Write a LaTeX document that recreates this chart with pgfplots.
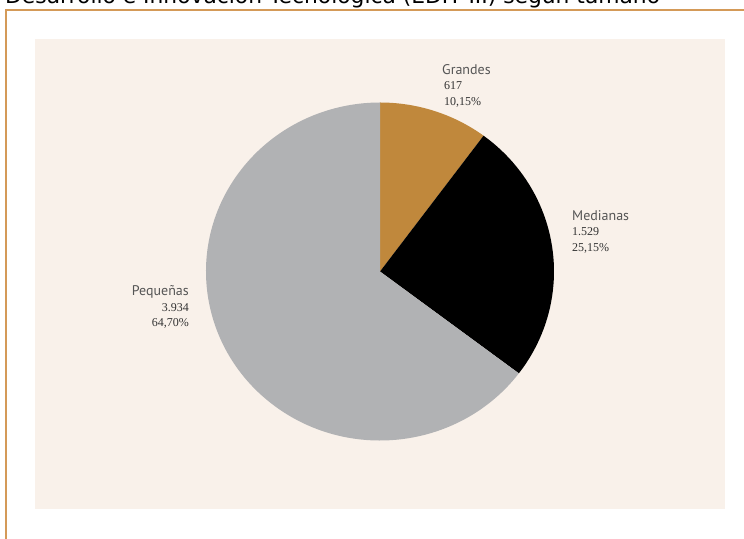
\documentclass[border=0pt]{standalone}
\usepackage{pgfplots}
\usepackage{pgfplotstable}
\pgfplotsset{compat=1.18}
\usepackage{fontspec}
\setmainfont{Liberation Serif}
\newfontfamily\titlefont{DejaVu Sans}
\newfontfamily\labfont{PT Sans}
\definecolor{grandes}{HTML}{C0883C}
\definecolor{medianas}{HTML}{000000}
\definecolor{pequenas}{HTML}{B1B2B4}
\definecolor{panel}{HTML}{F9F1EA}
\definecolor{frame}{HTML}{D49A58}
\definecolor{labgray}{HTML}{555555}
\definecolor{numgray}{HTML}{333333}

\pgfplotstableread{
name value
Grandes 617
Medianas 1529
Pequenas 3934
}\piedata

\pgfplotstablegetelem{0}{value}\of\piedata \let\vA\pgfplotsretval
\pgfplotstablegetelem{1}{value}\of\piedata \let\vB\pgfplotsretval
\pgfplotstablegetelem{2}{value}\of\piedata \let\vC\pgfplotsretval
\pgfmathsetmacro{\total}{\vA+\vB+\vC}
\pgfmathsetmacro{\fA}{\vA/\total}
\pgfmathsetmacro{\fB}{\vB/\total}
\pgfmathsetmacro{\aA}{90}
\pgfmathsetmacro{\aB}{90-360*\fA}
\pgfmathsetmacro{\aC}{\aB-360*\fB}
\pgfmathsetmacro{\aD}{90-360}

\begin{document}
\begin{tikzpicture}[x=1pt,y=1pt]
\useasboundingbox (0,0) rectangle (744,538);
\clip (0,0) rectangle (744,538);
% title (cut at top)
\node[anchor=base west, inner sep=0pt, text=black] at (5,534) {\titlefont\fontsize{21.8}{24}\selectfont Desarrollo e Innovación Tecnológica (EDIT III) según tamaño};
% frame
\draw[frame, line width=1.6pt] (5.7,-2) -- (5.7,528) -- (746,528);
% panel
\fill[panel] (35,29) rectangle (725,499);
\begin{axis}[
  hide axis,
  x=174pt, y=169pt,
  xmin=-1, xmax=1, ymin=-1, ymax=1,
  anchor=origin, at={(380pt,266.5pt)},
  clip=false,
]
\fill[grandes] (axis cs:0,0) -- (axis cs:{cos(\aA)},{sin(\aA)}) arc[start angle=\aA, end angle=\aB, x radius=174pt, y radius=169pt] -- cycle;
\fill[medianas] (axis cs:0,0) -- (axis cs:{cos(\aB)},{sin(\aB)}) arc[start angle=\aB, end angle=\aC, x radius=174pt, y radius=169pt] -- cycle;
\fill[pequenas] (axis cs:0,0) -- (axis cs:{cos(\aC)},{sin(\aC)}) arc[start angle=\aC, end angle=\aD, x radius=174pt, y radius=169pt] -- cycle;
\end{axis}
% labels
\node[anchor=base west, inner sep=0pt, text=labgray] at (442,463) {\labfont\fontsize{14}{16}\selectfont Grandes};
\node[anchor=base west, inner sep=0pt, text=numgray] at (444,448) {\fontsize{12}{14}\selectfont 617};
\node[anchor=base west, inner sep=0pt, text=numgray] at (444,432) {\fontsize{12}{14}\selectfont 10,15\%};
\node[anchor=base west, inner sep=0pt, text=labgray] at (572,317) {\labfont\fontsize{14}{16}\selectfont Medianas};
\node[anchor=base west, inner sep=0pt, text=numgray] at (572,302) {\fontsize{12}{14}\selectfont 1.529};
\node[anchor=base west, inner sep=0pt, text=numgray] at (572,286) {\fontsize{12}{14}\selectfont 25,15\%};
\node[anchor=base east, inner sep=0pt, text=labgray] at (189,242) {\labfont\fontsize{14}{16}\selectfont Pequeñas};
\node[anchor=base east, inner sep=0pt, text=numgray] at (189,226) {\fontsize{12}{14}\selectfont 3.934};
\node[anchor=base east, inner sep=0pt, text=numgray] at (189,211) {\fontsize{12}{14}\selectfont 64,70\%};
\end{tikzpicture}
\end{document}
